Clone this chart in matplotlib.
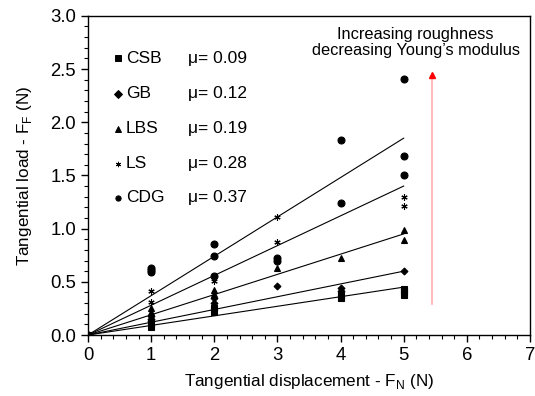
import matplotlib
matplotlib.use("Agg")
import matplotlib.pyplot as plt
from matplotlib.ticker import MultipleLocator

plt.rcParams['font.family'] = ['Liberation Sans', 'DejaVu Sans']

# friction coefficients (slope of the fitted lines)
names = ['CSB', 'GB', 'LBS', 'LS', 'CDG']
mu = [0.09, 0.12, 0.19, 0.28, 0.37]

csb_x = [0, 1, 1, 2, 2, 4, 4, 5, 5, 5]
csb_y = [0, 0.11, 0.08, 0.25, 0.22, 0.38, 0.35, 0.43, 0.41, 0.38]
gb_x = [0, 1, 1, 1, 2, 2, 3, 4, 4, 5]
gb_y = [0, 0.18, 0.15, 0.13, 0.345, 0.30, 0.46, 0.44, 0.41, 0.60]
lbs_x = [0, 1, 1, 2, 2, 3, 4, 5, 5]
lbs_y = [0, 0.25, 0.22, 0.42, 0.39, 0.63, 0.72, 0.99, 0.89]
ls_x = [0, 1, 1, 2, 3, 3, 5, 5]
ls_y = [0, 0.41, 0.31, 0.51, 1.11, 0.87, 1.30, 1.21]
cdg_x = [0, 1, 1, 1, 2, 2, 2, 3, 3, 4, 4, 5, 5, 5]
cdg_y = [0, 0.63, 0.61, 0.59, 0.86, 0.745, 0.555, 0.72, 0.70, 1.83, 1.24, 2.41, 1.68, 1.50]

xs = [csb_x, gb_x, lbs_x, ls_x, cdg_x]
ys = [csb_y, gb_y, lbs_y, ls_y, cdg_y]
markers = ['s', 'D', '^', (6, 2, 0), 'o']
sizes = [4, 3.5, 5, 4.5, 5]

fig = plt.figure(figsize=(5.35, 3.96), dpi=100)
ax = fig.add_axes([0.1645, 0.154, 0.826, 0.806])

for x, y, m, s, k in zip(xs, ys, markers, sizes, mu):
    ax.plot(x, y, linestyle='none', marker=m, ms=s, color='black', mew=0.8)
    ax.plot([0, 5], [0, 5 * k], color='black', lw=0.8)

# in-plot legend
leg_y = [2.60, 2.27, 1.94, 1.61, 1.29]
for n, k, m, yy in zip(names, mu, markers, leg_y):
    ax.plot(0.47, yy, linestyle='none', marker=m, ms=3.8, color='black', mew=0.7)
    ax.text(0.6, yy, n, fontsize=12.5, va='center', ha='left')
    ax.text(1.58, yy, 'μ= %.2f' % k, fontsize=12.5, va='center', ha='left')

# red arrow
ax.plot([5.45, 5.45], [0.29, 2.42], color='#ffb0b0', lw=1.2)
ax.plot(5.45, 2.44, marker='^', ms=5, color='red', linestyle='none')
ax.text(5.19, 2.75, 'Increasing roughness\ndecreasing Young\u2019s modulus',
        fontsize=11.8, ha='center', va='center', linespacing=1.05)

ax.set_xlim(0, 7)
ax.set_ylim(0, 3.0)
ax.xaxis.set_major_locator(MultipleLocator(1))
ax.xaxis.set_minor_locator(MultipleLocator(0.2))
ax.yaxis.set_major_locator(MultipleLocator(0.5))
ax.yaxis.set_minor_locator(MultipleLocator(0.1))
ax.yaxis.set_major_formatter(matplotlib.ticker.FormatStrFormatter('%.1f'))
ax.tick_params(which='both', direction='out', top=False, right=False, labelsize=13.3)
ax.tick_params(which='major', length=5, width=1)
ax.tick_params(which='minor', length=3, width=0.8)
for sp in ax.spines.values():
    sp.set_linewidth(1)

ax.set_xlabel('Tangential displacement - F$_\\mathregular{N}$ (N)', fontsize=12.3, labelpad=6)
ax.set_ylabel('Tangential load - F$_\\mathregular{F}$ (N)', fontsize=12.3, labelpad=12)

fig.savefig('out.png', dpi=100)
